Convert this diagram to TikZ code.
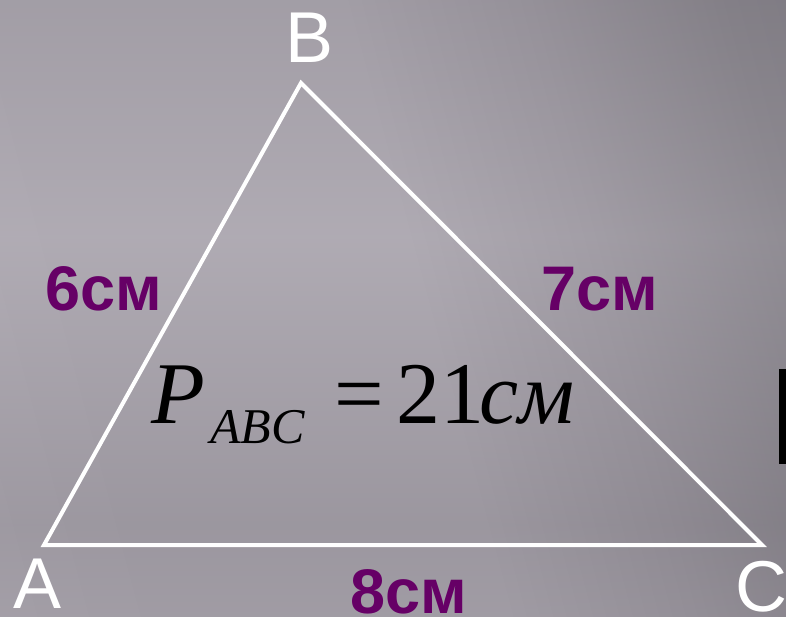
\documentclass[tikz,border=0pt]{standalone}
\usepackage{fontspec}
\setmainfont{Liberation Serif}
\newfontfamily\arialf{Liberation Sans}
\newfontfamily\timesf{Liberation Serif}
\definecolor{lblpurple}{HTML}{660066}
\definecolor{bga}{HTML}{B2ADB6}
\definecolor{bgb}{HTML}{A9A4AD}
\definecolor{bgc}{HTML}{9B969F}
\definecolor{bgd}{HTML}{87838B}
\definecolor{bge}{HTML}{74707A}
\pgfdeclarehorizontalshading{bgshade}{100bp}{
  color(0bp)=(bga); color(30bp)=(bgb); color(52bp)=(bgb);
  color(64bp)=(bgc); color(77bp)=(bgd); color(100bp)=(bge)}
\pgfdeclareverticalshading{streaks}{100bp}{
  color(0bp)=(white); color(14bp)=(white); color(24bp)=(black);
  color(34bp)=(white); color(44bp)=(black); color(52bp)=(white);
  color(62bp)=(black); color(72bp)=(white); color(84bp)=(black);
  color(100bp)=(white)}
\tikzset{
  vertexlbl/.style={text=white, font=\arialf\fontsize{72}{72}\selectfont, inner sep=0pt},
  sidelbl/.style={text=lblpurple, font=\arialf\bfseries\fontsize{63}{63}\selectfont, inner sep=0pt},
  formula/.style={text=black, inner sep=0pt, anchor=base west},
  edge/.style={draw=white, line width=4pt, line join=miter}
}
\begin{document}
\begin{tikzpicture}[x=1pt,y=-1pt]
\useasboundingbox (0,0) rectangle (786,617);
% background
\shade[shading=bgshade, shading angle=15] (0,0) rectangle (786,617);
\begin{scope}
  \clip (0,0) rectangle (786,617);
  \shade[shading=streaks, opacity=0.08, rotate around={36:(393,308)}] (-300,-300) rectangle (1086,917);
\end{scope}
\fill[black] (779,369) rectangle (786,464);
% triangle
\coordinate (A) at (44,545);
\coordinate (B) at (301,83);
\coordinate (C) at (762,545);
\draw[edge] (A) -- (B) -- (C) -- cycle;
% vertex labels
\node[vertexlbl] (la) at (38,584) {A};
\node[vertexlbl] (lb) at (310,38) {B};
\node[vertexlbl] (lc) at (761,587) {C};
% side labels
\node[sidelbl] (s6) at (104,289) {6см};
\node[sidelbl] (s7) at (600,289) {7см};
\node[sidelbl] (s8) at (409,592) {8см};
% formula
\node[formula] (fp) at (151,423) {\timesf\itshape\fontsize{88}{88}\selectfont P};
\node[formula] (fs) at (210,443) {\timesf\itshape\fontsize{50}{50}\selectfont ABC};
\node[formula] (feq) at (334,423) {\timesf\fontsize{88}{88}\selectfont =};
\node[formula] (fn) at (396,423) {\timesf\fontsize{88}{88}\selectfont 21};
\node[formula] (fu) at (479,423) {\timesf\itshape\fontsize{88}{88}\selectfont см};
\end{tikzpicture}
\end{document}
